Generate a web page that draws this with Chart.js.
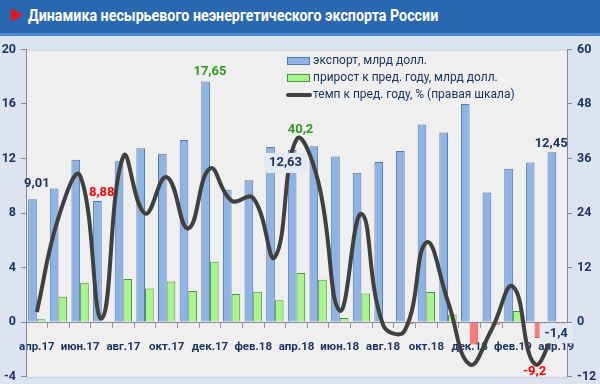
<!DOCTYPE html>
<html>
<head>
<meta charset="utf-8">
<script src="https://cdn.jsdelivr.net/npm/chart.js@4.4.1/dist/chart.umd.min.js"></script>
<style>
html, body { margin: 0; padding: 0; }
body { width: 600px; height: 384px; background: #dce4ef; position: relative; overflow: hidden; font-family: Roboto, sans-serif; }
#title { position: absolute; left: 0; top: 0; width: 600px; height: 33px; background: #2968b0; border-bottom: 3px solid #4d88cf; z-index: 2; }
#title .tri { position: absolute; left: 11px; top: 8px; width: 0; height: 0; border-top: 7px solid transparent; border-bottom: 7px solid transparent; border-left: 12px solid #e8141b; }
#title .txt { position: absolute; left: 28px; top: 5px; color: #fff; font: bold 17px Roboto, sans-serif; white-space: nowrap; transform: scaleX(0.84); transform-origin: left center; }
#wrap { position: absolute; left: 0; top: 37px; width: 600px; height: 352px; }
</style>
</head>
<body>
<div id="title"><div class="tri"></div><div class="txt">Динамика несырьевого неэнергетического экспорта России</div></div>
<div id="wrap"><canvas id="chart"></canvas></div>
<script>
// Месяцы (подписи выводятся через один)
const months = ['апр.17','май.17','июн.17','июл.17','авг.17','сен.17','окт.17','ноя.17','дек.17',
    'янв.18','фев.18','мар.18','апр.18','май.18','июн.18','июл.18','авг.18','сен.18','окт.18','ноя.18','дек.18',
    'янв.19','фев.19','мар.19','апр.19'];

// экспорт, млрд долл.
const exportValues = [9.01, 9.8, 11.9, 8.88, 11.8, 12.75, 12.35, 13.35, 17.65,
    9.7, 10.4, 12.85, 12.63, 12.9, 12.15, 10.95, 11.75, 12.55, 14.5, 13.9, 16.0,
    9.5, 11.25, 11.7, 12.45];

// прирост к пред. году, млрд долл.
const growthValues = [0.2, 1.85, 2.88, 0.05, 3.15, 2.45, 2.98, 2.27, 4.43,
    2.05, 2.22, 1.6, 3.6, 3.1, 0.3, 2.1, -0.05, -0.15, 2.2, 0.55, -1.65,
    -0.2, 0.8, -1.18, -0.18];

// темп к пред. году, %
const rateValues = [2.2, 23, 32.2, 0.8, 36.5, 23.9, 31.9, 20.6, 33.8,
    26.7, 27.3, 14.3, 40.2, 31, 2.5, 23.8, -0.6, -1.9, 17.5, 4.5, -9.3,
    -1.8, 7.8, -9.2, -1.4];

// Шкалы
const leftTicks = [-4, 20, 4];
const rightTicks = [-12, 60, 12];

const navy = '#1b3461';
const fontName = 'Roboto, sans-serif';

// Подписи значений: набор данных, индекс, знаков после запятой, цвет, смещение
const callouts = [
    { ds: 0, i: 0, dec: 2, color: navy, dx: 0, dy: -15 },
    { ds: 0, i: 3, dec: 2, color: '#ff0000', dx: 0, dy: -8 },
    { ds: 0, i: 8, dec: 2, color: '#2e9a1f', dx: 0, dy: -10 },
    { ds: 0, i: 12, dec: 2, color: navy, dx: -11, dy: 13, box: true },
    { ds: 2, i: 12, dec: 1, color: '#2e9a1f', dx: 4, dy: -10 },
    { ds: 0, i: 24, dec: 2, color: navy, dx: -5, dy: -9 },
    { ds: 2, i: 23, dec: 1, color: '#ff0000', dx: 0, dy: 8 },
    { ds: 2, i: 24, dec: 1, color: navy, dx: 0, dy: 5, box: true }
];

const plotBg = {
    id: 'plotBg',
    beforeDraw(chart) {
        const a = chart.chartArea, c = chart.ctx;
        c.save();
        c.fillStyle = '#efefef';
        c.fillRect(a.left, a.top, a.right - a.left, a.bottom - a.top);
        c.strokeStyle = '#c3cdda';
        c.lineWidth = 1;
        c.strokeRect(a.left + 0.5, a.top + 0.5, a.right - a.left, a.bottom - a.top + 1);
        c.restore();
    }
};

const valueLabels = {
    id: 'valueLabels',
    afterDatasetsDraw(chart) {
        const c = chart.ctx;
        const xs = chart.scales.x;
        c.save();
        c.font = 'bold 13px ' + fontName;
        c.textAlign = 'center';
        c.textBaseline = 'middle';
        callouts.forEach(l => {
            const ds = chart.data.datasets[l.ds];
            const el = chart.getDatasetMeta(l.ds).data[l.i];
            const text = ds.data[l.i].toFixed(l.dec).replace('.', ',');
            const x = xs.getPixelForValue(l.i) + l.dx;
            const y = el.y + l.dy;
            if (l.box) {
                const w = c.measureText(text).width + 10;
                c.fillStyle = '#e3eaf3';
                c.fillRect(x - w / 2, y - 10, w, 20);
            }
            c.fillStyle = l.color;
            c.fillText(text, x, y);
        });
        c.restore();
    }
};

const innerLegend = {
    id: 'innerLegend',
    afterDraw(chart) {
        const c = chart.ctx;
        const x0 = 287, y0 = 24;
        c.save();
        c.font = '12px ' + fontName;
        c.textBaseline = 'middle';
        chart.data.datasets.forEach((ds, k) => {
            const y = y0 + k * 17;
            if (ds.type === 'line') {
                c.strokeStyle = ds.borderColor;
                c.lineWidth = 4;
                c.lineCap = 'round';
                c.beginPath();
                c.moveTo(x0 + 1, y);
                c.lineTo(x0 + 23, y);
                c.stroke();
            } else {
                c.fillStyle = ds.legendFill;
                c.fillRect(x0, y - 4, 23, 7);
                c.strokeStyle = ds.legendBorder;
                c.lineWidth = 1;
                c.strokeRect(x0 + 0.5, y - 3.5, 22, 7);
            }
            c.fillStyle = navy;
            c.fillText(ds.label, x0 + 26, y);
        });
        c.restore();
    }
};

new Chart(document.getElementById('chart'), {
    type: 'bar',
    data: {
        labels: months,
        datasets: [
            {
                label: 'экспорт, млрд долл.',
                data: exportValues,
                backgroundColor: '#8db4e3',
                borderColor: '#5178b0',
                legendFill: '#8db4e3',
                legendBorder: '#5178b0',
                borderWidth: 1,
                yAxisID: 'y',
                order: 1,
                categoryPercentage: 0.8,
                barPercentage: 1
            },
            {
                label: 'прирост к пред. году, млрд долл.',
                data: growthValues,
                backgroundColor: ctx => ctx.raw < 0 ? '#f77b7b' : '#a8f58c',
                borderColor: ctx => ctx.raw < 0 ? '#d8504f' : '#4f8f43',
                legendFill: '#a8f58c',
                legendBorder: '#4f8f43',
                borderWidth: 1,
                yAxisID: 'y',
                order: 2,
                categoryPercentage: 0.8,
                barPercentage: 1
            },
            {
                type: 'line',
                label: 'темп к пред. году, % (правая шкала)',
                data: rateValues,
                borderColor: '#404040',
                borderWidth: 4,
                tension: 0.45,
                pointRadius: 0,
                fill: false,
                yAxisID: 'y1',
                order: 0
            }
        ]
    },
    options: {
        responsive: true,
        maintainAspectRatio: false,
        animation: false,
        layout: { padding: { top: 12, bottom: 0, left: 0, right: 0 } },
        plugins: { legend: { display: false }, tooltip: { enabled: false } },
        scales: {
            x: {
                position: { y: 0 },
                offset: true,
                grid: { offset: true, drawOnChartArea: false, tickLength: 5, color: '#8d96a3' },
                border: { color: '#7f8a99', width: 1 },
                ticks: {
                    autoSkip: false,
                    maxRotation: 0,
                    padding: 13,
                    color: navy,
                    font: { family: fontName, size: 11.5, weight: 'bold' },
                    callback: (v, i) => i % 2 === 0 ? months[i] : ''
                }
            },
            y: {
                position: 'left',
                min: leftTicks[0], max: leftTicks[1],
                ticks: { stepSize: leftTicks[2], padding: 5, color: navy, font: { family: fontName, size: 12.5, weight: 'bold' } },
                grid: { drawOnChartArea: false, tickLength: 5, color: '#7f8a99' },
                border: { color: '#7f8a99' },
                afterFit: s => { s.width = 26; }
            },
            y1: {
                position: 'right',
                min: rightTicks[0], max: rightTicks[1],
                ticks: { stepSize: rightTicks[2], padding: 5, color: navy, font: { family: fontName, size: 12.5, weight: 'bold' } },
                grid: { drawOnChartArea: false, tickLength: 5, color: '#7f8a99' },
                border: { color: '#7f8a99' },
                afterFit: s => { s.width = 33; }
            }
        }
    },
    plugins: [plotBg, valueLabels, innerLegend]
});
</script>
</body>
</html>
